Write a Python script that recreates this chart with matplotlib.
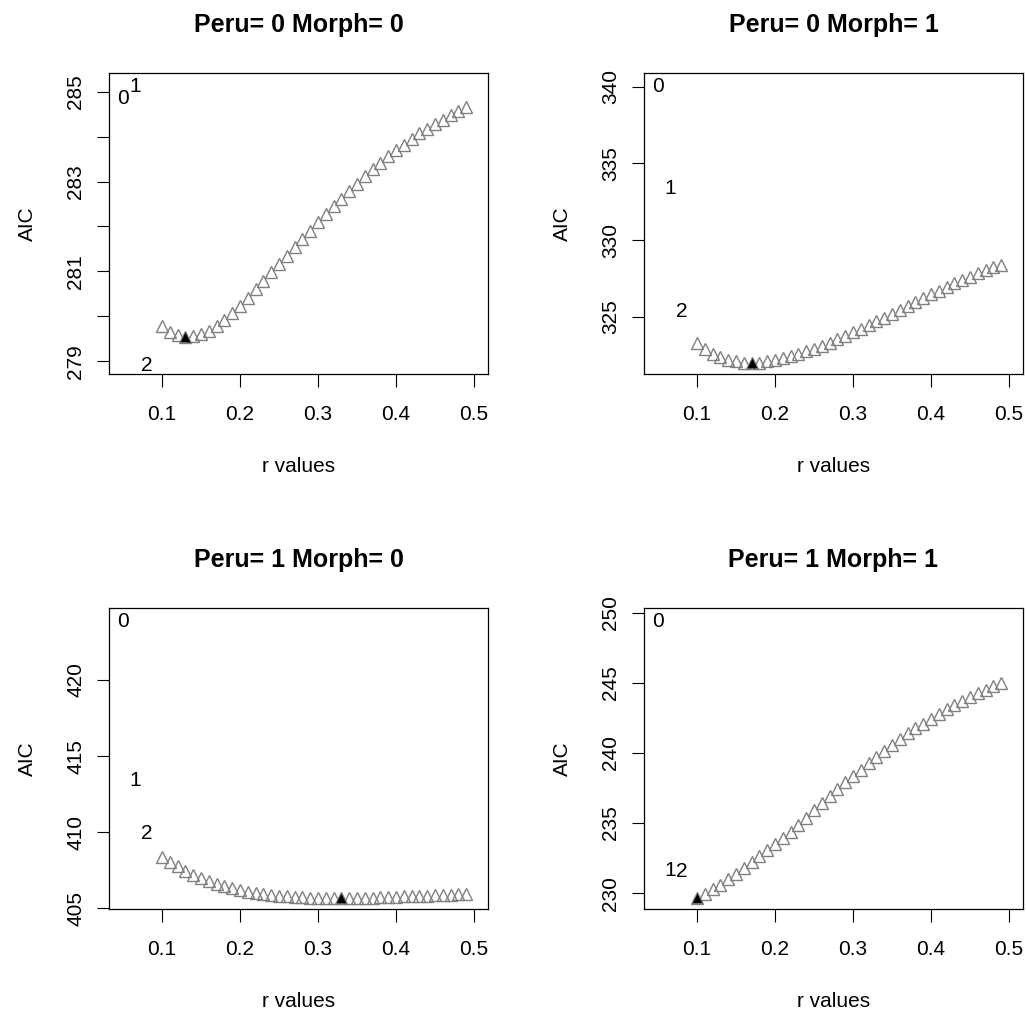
import numpy as np
import matplotlib
matplotlib.use("Agg")
import matplotlib.pyplot as plt

plt.rcParams['font.family'] = ['Liberation Sans', 'DejaVu Sans']

# r values tested (0.10 .. 0.49)
r_vals = [0.10, 0.11, 0.12, 0.13, 0.14, 0.15, 0.16, 0.17, 0.18, 0.19,
          0.20, 0.21, 0.22, 0.23, 0.24, 0.25, 0.26, 0.27, 0.28, 0.29,
          0.30, 0.31, 0.32, 0.33, 0.34, 0.35, 0.36, 0.37, 0.38, 0.39,
          0.40, 0.41, 0.42, 0.43, 0.44, 0.45, 0.46, 0.47, 0.48, 0.49]

titles = ["Peru= 0 Morph= 0", "Peru= 0 Morph= 1",
          "Peru= 1 Morph= 0", "Peru= 1 Morph= 1"]

aic_p0m0 = [279.79, 279.66, 279.58, 279.54, 279.56, 279.60, 279.68, 279.78, 279.92, 280.07,
            280.24, 280.42, 280.60, 280.79, 280.98, 281.17, 281.35, 281.54, 281.73, 281.91,
            282.09, 282.28, 282.45, 282.62, 282.79, 282.95, 283.12, 283.27, 283.41, 283.56,
            283.70, 283.82, 283.95, 284.07, 284.18, 284.29, 284.38, 284.49, 284.58, 284.66]

aic_p0m1 = [323.26, 322.89, 322.57, 322.34, 322.19, 322.08, 322.01, 321.97, 322.01, 322.10,
            322.19, 322.30, 322.43, 322.58, 322.74, 322.91, 323.11, 323.31, 323.53, 323.75,
            323.97, 324.21, 324.45, 324.69, 324.93, 325.20, 325.43, 325.70, 325.94, 326.20,
            326.45, 326.68, 326.93, 327.17, 327.39, 327.61, 327.83, 328.03, 328.22, 328.39]

aic_p1m0 = [408.39, 408.06, 407.75, 407.48, 407.22, 407.00, 406.80, 406.62, 406.46, 406.33,
            406.20, 406.10, 406.01, 405.94, 405.88, 405.83, 405.79, 405.76, 405.73, 405.71,
            405.70, 405.69, 405.68, 405.67, 405.68, 405.69, 405.70, 405.71, 405.72, 405.74,
            405.76, 405.78, 405.80, 405.82, 405.84, 405.86, 405.88, 405.90, 405.92, 405.94]

aic_p1m1 = [229.65, 229.95, 230.28, 230.62, 231.00, 231.40, 231.80, 232.20, 232.62, 233.05,
            233.50, 233.95, 234.40, 234.90, 235.40, 235.90, 236.40, 236.90, 237.40, 237.90,
            238.35, 238.80, 239.25, 239.70, 240.15, 240.60, 241.00, 241.40, 241.80, 242.05,
            242.45, 242.80, 243.10, 243.42, 243.72, 244.00, 244.25, 244.50, 244.75, 245.00]

# AIC of the 0/1/2 models, written at fixed x positions
model_names = ["0", "1", "2"]
model_x = [0.05, 0.065, 0.08]
model_p0m0 = [284.90, 285.16, 278.96]
model_p0m1 = [340.15, 333.49, 325.50]
model_p1m0 = [423.98, 413.52, 410.05]
model_p1m1 = [249.52, 231.75, 231.72]

yticks = [[279, 280, 281, 282, 283, 284, 285],
          [325, 330, 335, 340],
          [405, 410, 415, 420],
          [230, 235, 240, 245, 250]]
ytick_labels = [["279", "", "281", "", "283", "", "285"],
                ["325", "330", "335", "340"],
                ["405", "410", "415", "420"],
                ["230", "235", "240", "245", "250"]]

all_aic = [aic_p0m0, aic_p0m1, aic_p1m0, aic_p1m1]
all_models = [model_p0m0, model_p0m1, model_p1m0, model_p1m1]

W, H = 1026, 1011
fig = plt.figure(figsize=(W / 100, H / 100), dpi=100)

# axes boxes in pixels: left, top
boxes = [(109, 73.3), (644, 73.3), (109, 608.3), (644, 608.3)]
bw, bh = 379, 301

for i in range(4):
    left, top = boxes[i]
    ax = fig.add_axes([left / W, 1 - (top + bh) / H, bw / W, bh / H])
    aic = all_aic[i]
    mods = all_models[i]

    ax.plot(r_vals, aic, linestyle='none', marker='^', ms=8.5,
            mfc='none', mec='#808080', mew=1.0)
    k = int(np.argmin(aic))
    ax.plot(r_vals[k], aic[k], linestyle='none', marker='^', ms=6.5,
            color='black', mec='none')

    for name, mx, my in zip(model_names, model_x, mods):
        ax.text(mx, my, name, ha='center', va='center_baseline', fontsize=15)

    lo = min(min(aic), min(mods))
    hi = max(max(aic), max(mods))
    pad = 0.04 * (hi - lo)
    ax.set_ylim(lo - pad, hi + pad)
    ax.set_xlim(0.05 - 0.018, 0.5 + 0.018)

    ax.set_xticks([0.1, 0.2, 0.3, 0.4, 0.5])
    ax.set_xticklabels(["0.1", "0.2", "0.3", "0.4", "0.5"])
    ax.set_yticks(yticks[i])
    ax.set_yticklabels(ytick_labels[i], rotation=90, va='center')

    ax.tick_params(direction='out', length=9, width=0.8, labelsize=15)
    ax.tick_params(axis='x', pad=13)
    ax.tick_params(axis='y', pad=8)
    for s in ax.spines.values():
        s.set_linewidth(0.9)

    ax.set_xlabel("r values", fontsize=15, labelpad=24)
    ax.set_ylabel("AIC", fontsize=15, labelpad=21)
    ax.set_title(titles[i], fontsize=18, fontweight='bold', pad=30)

fig.savefig("out.png", dpi=100)
